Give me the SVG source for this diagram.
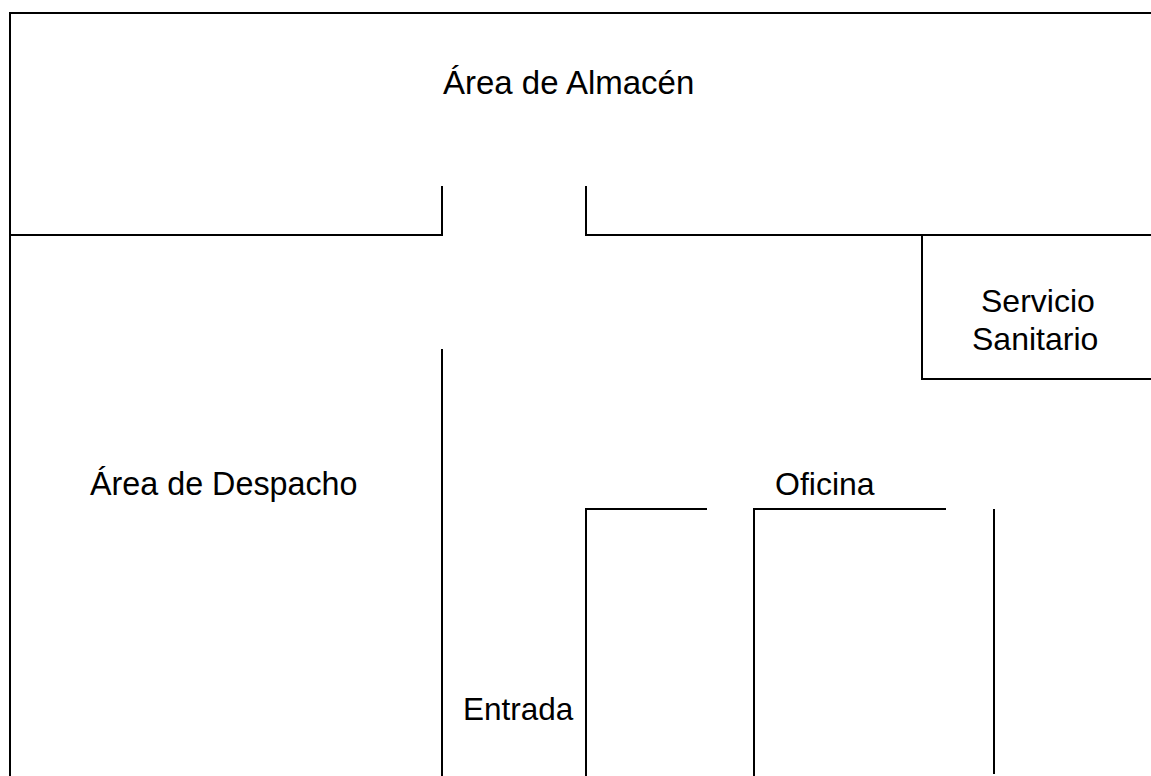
<svg xmlns="http://www.w3.org/2000/svg" width="1151" height="776" viewBox="0 0 1151 776">
<style>
.w{fill:none;stroke:#000;stroke-width:2}
text{font-family:"Liberation Sans",Arial,sans-serif;font-size:32px;fill:#000}
</style>
<rect width="1151" height="776" fill="#fff"/>
<g id="walls">
<path class="w" d="M10 776V13H1151"/>
<path class="w" d="M10 235H442V186"/>
<path class="w" d="M586 186V235H1151"/>
<path class="w" d="M922 235V379H1151"/>
<path class="w" d="M442 349V776"/>
<path class="w" d="M586 776V509H707"/>
<path class="w" d="M754 776V509H946"/>
<path class="w" d="M994 509V774"/>
</g>
<g id="labels">
<text x="443" y="94" font-size="33" style="font-size:33px">Área de Almacén</text>
<text x="981" y="312">Servicio</text>
<text x="972" y="350">Sanitario</text>
<text x="90" y="495" style="font-size:32.3px">Área de Despacho</text>
<text x="775" y="495">Oficina</text>
<text x="463" y="720" style="font-size:31.5px">Entrada</text>
</g>
</svg>
